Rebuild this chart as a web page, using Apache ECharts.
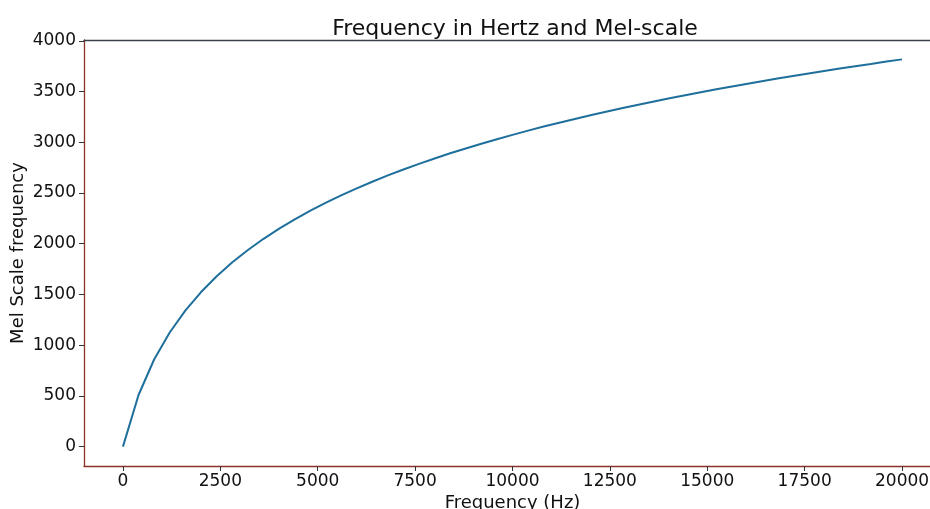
<!DOCTYPE html>
<html>
<head>
<meta charset="utf-8">
<script src="https://cdn.jsdelivr.net/npm/echarts@6/dist/echarts.min.js"></script>
<style>
  html, body { margin: 0; padding: 0; background: #ffffff; }
  #chart { width: 930px; height: 509px; }
</style>
</head>
<body>
<div id="chart"></div>
<script>
// Frequency samples in Hz
const frequencyHz = [
  0, 400, 800, 1200, 1600, 2000, 2400, 2800, 3200, 3600,
  4000, 4400, 4800, 5200, 5600, 6000, 6400, 6800, 7200, 7600,
  8000, 8400, 8800, 9200, 9600, 10000, 10400, 10800, 11200, 11600,
  12000, 12400, 12800, 13200, 13600, 14000, 14400, 14800, 15200, 15600,
  16000, 16400, 16800, 17200, 17600, 18000, 18400, 18800, 19200, 19600,
  20000
];

// Corresponding mel values
const melValues = [
  0, 509, 859, 1125, 1341, 1521, 1677, 1814, 1936, 2046,
  2146, 2238, 2323, 2402, 2476, 2546, 2611, 2673, 2731, 2787,
  2840, 2891, 2939, 2986, 3030, 3073, 3115, 3155, 3193, 3230,
  3266, 3301, 3335, 3368, 3400, 3431, 3461, 3491, 3520, 3548,
  3575, 3602, 3628, 3653, 3678, 3702, 3726, 3750, 3772, 3795,
  3817
];

// Tick positions
const xTicks = [0, 2500, 5000, 7500, 10000, 12500, 15000, 17500, 20000];
const yTicks = [0, 500, 1000, 1500, 2000, 2500, 3000, 3500, 4000];

const spineColor = '#8a3325';
const textColor = '#111111';
const font = 'DejaVu Sans';
const plain = v => String(v);

const chart = echarts.init(document.getElementById('chart'), null, { renderer: 'canvas' });

chart.setOption({
  animation: false,
  backgroundColor: '#ffffff',
  title: {
    text: 'Frequency in Hertz and Mel-scale',
    left: 510,
    textAlign: 'center',
    top: 13,
    textStyle: { fontFamily: font, fontSize: 22, fontWeight: 'normal', color: textColor }
  },
  grid: { left: 84, top: 40, width: 857, height: 426, containLabel: false, outerBoundsMode: 'none' },
  xAxis: [
    {
      type: 'value',
      min: -1000,
      max: 21000,
      position: 'bottom',
      name: 'Frequency (Hz)',
      nameLocation: 'middle',
      nameGap: 28,
      nameMoveOverlap: false,
      nameTextStyle: { fontFamily: font, fontSize: 18, color: textColor, verticalAlign: 'top' },
      splitLine: { show: false },
      axisLine: { show: true, onZero: false, lineStyle: { color: spineColor, width: 1.3 } },
      axisTick: { show: true, length: 5, customValues: xTicks, lineStyle: { color: '#333', width: 1 } },
      axisLabel: {
        customValues: xTicks,
        formatter: plain,
        margin: 7,
        fontFamily: font,
        fontSize: 17,
        color: textColor
      }
    },
    {
      type: 'value',
      min: -1000,
      max: 21000,
      position: 'top',
      splitLine: { show: false },
      axisLine: { show: true, onZero: false, lineStyle: { color: '#3a3f47', width: 1.3 } },
      axisTick: { show: false },
      axisLabel: { show: false }
    }
  ],
  yAxis: {
    type: 'value',
    min: -191,
    max: 4008,
    name: 'Mel Scale frequency',
    nameLocation: 'middle',
    nameGap: 57,
    nameMoveOverlap: false,
    nameRotate: 90,
    nameTextStyle: { fontFamily: font, fontSize: 18, color: textColor },
    splitLine: { show: false },
    axisLine: { show: true, onZero: false, lineStyle: { color: spineColor, width: 1.3 } },
    axisTick: { show: true, length: 5, customValues: yTicks, lineStyle: { color: '#333', width: 1 } },
    axisLabel: {
      customValues: yTicks,
      formatter: plain,
      margin: 8,
      fontFamily: font,
      fontSize: 17,
      color: textColor
    }
  },
  series: [
    {
      type: 'line',
      xAxisIndex: 0,
      data: frequencyHz.map((f, i) => [f, melValues[i]]),
      showSymbol: false,
      smooth: false,
      lineStyle: { color: '#1f6f9c', width: 2 }
    }
  ]
});
</script>
</body>
</html>
